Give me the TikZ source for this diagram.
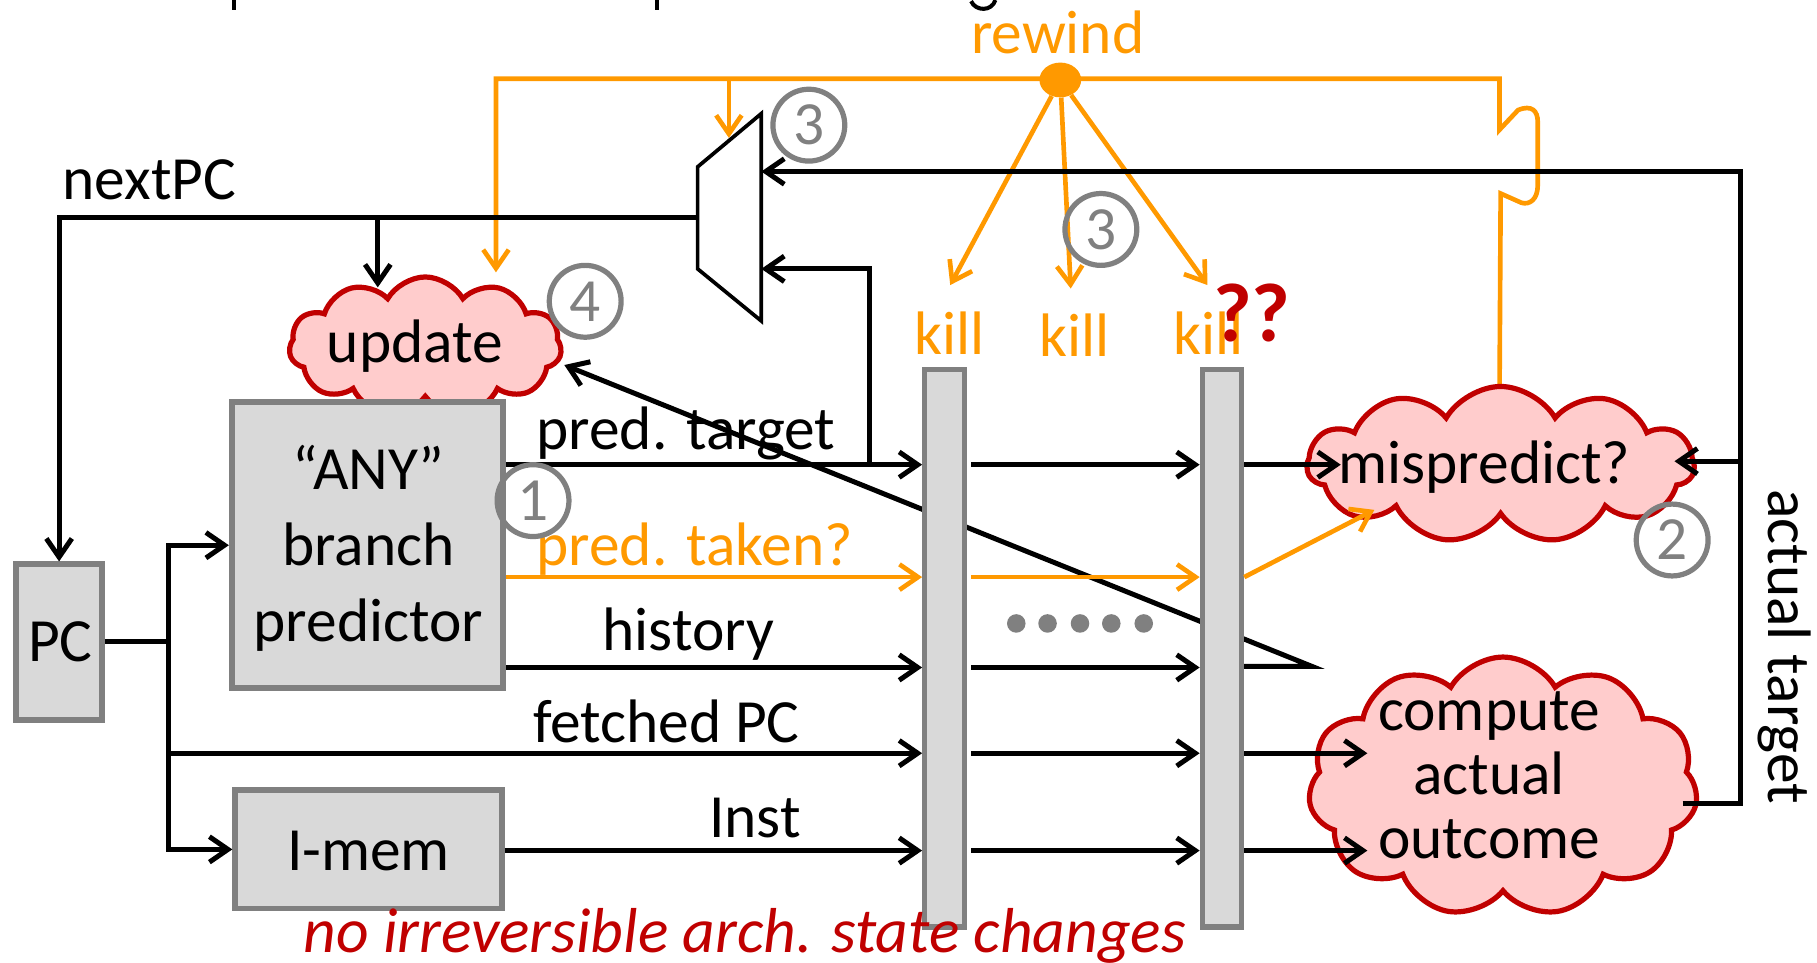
\documentclass[tikz,border=0pt]{standalone}
\usepackage{fontspec}
\setmainfont{Carlito}
\usetikzlibrary{arrows.meta,shapes.symbols,shapes.geometric}
\definecolor{flow}{RGB}{255,153,0}
\definecolor{alert}{RGB}{192,0,0}
\definecolor{puffpink}{RGB}{255,204,204}
\definecolor{unitfill}{RGB}{217,217,217}
\definecolor{unitedge}{RGB}{128,128,128}
\newcommand{\lblfont}{\fontsize{53}{64}\selectfont}
\begin{document}
\begin{tikzpicture}[x=1pt,y=-1pt,
  txt/.style={font=\lblfont, inner sep=0pt, outer sep=0pt},
  wire/.style={line width=4.3pt, draw=black},
  owire/.style={line width=4pt, draw=flow},
  tipped/.style={-{Straight Barb[length=16pt,width=22pt]}},
  tippedstart/.style={{Straight Barb[length=16pt,width=22pt]}-},
  unit/.style={draw=unitedge, fill=unitfill, line width=5pt, inner sep=0pt},
  puff/.style={cloud, cloud puffs=11, cloud puff arc=120, draw=alert, fill=puffpink, line width=4.5pt, inner sep=0pt},
  stepnum/.style={circle, draw=unitedge, text=unitedge, line width=4.5pt, minimum size=62pt, inner sep=0pt, font=\lblfont},
]
\useasboundingbox (0,0) rectangle (1568,831);

% row levels of the pipeline signals
\coordinate (rT) at (0,401);
\coordinate (rO) at (0,498);
\coordinate (rH) at (0,576);
\coordinate (rF) at (0,650);
\coordinate (rI) at (0,734);

% descenders of the cropped heading along the top edge
\draw[line width=3.5pt] (202,0) -- (202,9);
\draw[line width=3.5pt] (567,0) -- (567,9);
\draw[line width=3.5pt] (838,1) .. controls (842,10) and (856,10) .. (859,0);

% ---------- rewind broadcast ----------
\coordinate (rwL) at (428,68);
\coordinate (rwM) at (629,68);
\coordinate (rwR) at (1294,68);
\coordinate (updTopO) at (428,235);
\coordinate (muxTopO) at (629,119);
\coordinate (misTop) at (1294,345);
\draw[owire,tippedstart] (updTopO) -- (rwL) -- (rwR) -- (1294,112) -- (1310,95)
   .. controls (1322,90) and (1327,96) .. (1327,105) -- (1327,160)
   .. controls (1327,172) and (1320,177) .. (1313,175) -- (1295,167) -- (misTop);
\draw[owire,tipped] (rwM) -- (muxTopO);
\node[ellipse, fill=flow, minimum width=36, minimum height=30, inner sep=0pt] (rwDot) at (915,69) {};
\coordinate (k1) at (820,246);
\coordinate (k2) at (924,249);
\coordinate (k3) at (1042,246);
\draw[owire,tipped] (rwDot) -- (k1);
\draw[owire,tipped] (rwDot) -- (k2);
\draw[owire,tipped] (rwDot) -- (k3);

% history fed back to the predictor update (runs behind the latches)
\coordinate (hStart) at (1054,575);
\coordinate (loopV) at (1132,575);
\coordinate (updIn) at (487,315);
\draw[wire,tipped] (hStart) -- (loopV) -- (updIn);

% ---------- blocks ----------
\node[puff, minimum width=235, minimum height=120] (upd) at (367,299) {};
\node[puff, minimum width=334, minimum height=135] (mis) at (1295,401) {};
\node[puff, minimum width=336, minimum height=224] (cmp) at (1297,679) {};

\node[unit, minimum width=74, minimum height=134] (pc) at (51,554) {};
\node[unit, minimum width=234, minimum height=247] (pred) at (317,470.5) {};
\node[unit, minimum width=230, minimum height=102] (imem) at (318,733) {};
\node[unit, line width=4.5pt, minimum width=34, minimum height=481] (reg1) at (815,559.5) {};
\node[unit, line width=4.5pt, minimum width=34, minimum height=481] (reg2) at (1054.5,559.5) {};

% next-PC multiplexer
\coordinate (muxA) at (657,98);
\coordinate (muxB) at (602,144);
\coordinate (muxC) at (602,232);
\coordinate (muxD) at (657,277);
\draw[line width=3.2pt] (muxA) -- (muxB) -- (muxC) -- (muxD) -- cycle;
\coordinate (muxOut) at (602,188);
\coordinate (muxIn1) at (657,148);
\coordinate (muxIn2) at (657,232);

% ---------- wires ----------
\coordinate (npcTap) at (326,188);
\coordinate (updTopK) at (326,248);
\draw[wire,tipped] (muxOut) -| (pc.north);
\draw[wire,tipped] (npcTap) -- (updTopK);

\coordinate (sp) at (145,554);
\draw[wire] (pc.east) -- (sp);
\draw[wire,tipped] (sp) |- (pred.west);
\draw[wire,tipped] (sp) |- (imem.west);
\draw[wire,tipped] (sp |- rF) -- (reg1.west |- rF);

\draw[wire,tipped] (pred.east |- rT) -- (reg1.west |- rT);
\draw[owire,tipped] (pred.east |- rO) -- (reg1.west |- rO);
\draw[wire,tipped] (pred.east |- rH) -- (reg1.west |- rH);
\draw[wire,tipped] (imem.east |- rI) -- (reg1.west |- rI);
\coordinate (tapT) at (750,401);
\draw[wire,tipped] (tapT) |- (muxIn2);

\foreach \r in {rT,rH,rF,rI}
  \draw[wire,tipped,shorten <=4pt] (reg1.east |- \r) -- (reg2.west |- \r);
\draw[owire,tipped,shorten <=4pt] (reg1.east |- rO) -- (reg2.west |- rO);

\coordinate (misIn) at (1157,401);
\coordinate (misInO) at (1186,440);
\coordinate (cmpIn1) at (1180,650);
\coordinate (cmpIn2) at (1180,734);
\draw[wire,tipped] (reg2.east |- rT) -- (misIn);
\draw[owire,tipped] (reg2.east |- rO) -- (misInO);
\draw[wire,tipped] (reg2.east |- rF) -- (cmpIn1);
\draw[wire,tipped] (reg2.east |- rI) -- (cmpIn2);

\coordinate (rtTop) at (1502,148);
\coordinate (rtMis) at (1502,398);
\coordinate (rtBot) at (1502,693);
\coordinate (misInR) at (1445,398);
\coordinate (cmpOut) at (1452,693);
\draw[wire,tipped] (cmpOut) -- (rtBot) -- (rtTop) -- (muxIn1);
\draw[wire,tipped] (rtMis) -- (misInR);

% ---------- texts ----------
\node[txt, anchor=base] (tPC) at (52,571) {PC};
\node[txt, anchor=base] (pA) at (318,422) {“ANY”};
\node[txt, anchor=base] (pB) at (318,488) {branch};
\node[txt, anchor=base] (pC) at (318,554) {predictor};
\node[txt, anchor=base] (tIm) at (318,751) {I-mem};
\node[txt, anchor=base west] (tUpd) at (282,313) {update};
\node[txt, anchor=base west] (tMis) at (1155,417) {mispredict?};
\node[txt, anchor=base] (tCmp1) at (1285,630) {compute};
\node[txt, anchor=base] (tCmp2) at (1285,686) {actual};
\node[txt, anchor=base] (tCmp3) at (1285,741) {outcome};

\node[txt, anchor=base west] (lNext) at (54,172) {nextPC};
\node[txt, anchor=base west] (lTgt) at (463,388) {pred. target};
\node[txt, anchor=base west, text=flow] (lTkn) at (463,488) {pred. taken?};
\node[txt, anchor=base west] (lHist) at (520,561) {history};
\node[txt, anchor=base west] (lFet) at (460,641) {fetched PC};
\node[txt, anchor=base west] (lInst) at (612,723) {Inst};
\node[txt, anchor=base west, text=flow] (lRew) at (838,46) {rewind};
\node[txt, anchor=base west, text=flow] (kill1) at (789,306) {kill};
\node[txt, anchor=base west, text=flow] (kill2) at (897,308) {kill};
\node[txt, anchor=base west, text=flow] (kill3) at (1013,306) {kill};
\node[txt, anchor=base west, text=alert, font=\fontsize{72}{80}\selectfont\bfseries] (qq) at (1047,295) {??};
\node[txt, anchor=base west, text=alert, font=\fontsize{54.8}{64}\selectfont\itshape] (note) at (262,822) {no irreversible arch. state changes};
\node[txt, rotate=-90] (tAct) at (1540,558) {actual target};

% step numbers
\node[stepnum] (s1) at (460,432) {1};
\node[stepnum] (s2) at (1443,466) {2};
\node[stepnum] (s3a) at (698,108) {3};
\node[stepnum] (s3b) at (950,198) {3};
\node[stepnum] (s4) at (505,260) {4};

% ellipsis between the latches
\foreach \x in {877,904,932,959,987}
  \fill[unitedge] (\x,538) circle [radius=8];
\end{tikzpicture}
\end{document}
